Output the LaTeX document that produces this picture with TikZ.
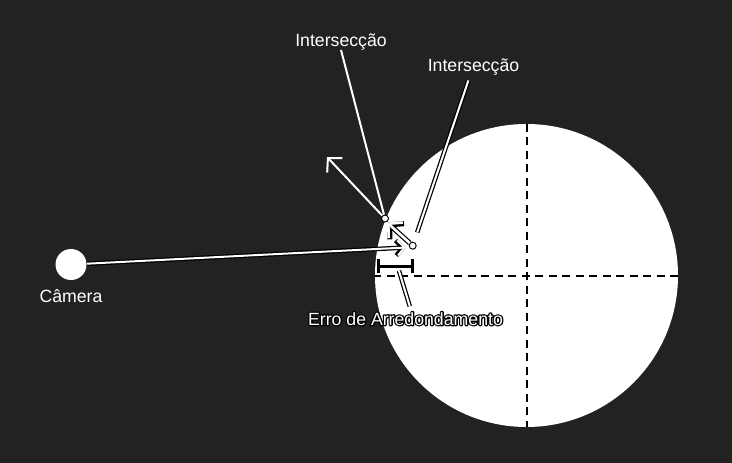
\documentclass[tikz,border=0pt]{standalone}
\usepackage{fontspec}
\setmainfont{Liberation Sans}
\usepackage{tikz}
\usetikzlibrary{calc}
\usetikzlibrary{arrows.meta}
\tikzset{>={Straight Barb[length=7pt,width=15pt]}}
\definecolor{bgdark}{RGB}{34,34,35}
% white text with a black rim
\newcommand{\rimtext}[1]{\rlap{\special{pdf:literal direct 1 Tr 2.6 w 1 j 0 0 0 RG}#1\special{pdf:literal direct 0 Tr}}#1}

\begin{document}
\begin{tikzpicture}[
    x = 1pt, y = -1pt,
    font = \fontsize{17.7}{20}\selectfont,
    lbl/.style = {text=white, inner sep=0pt, anchor=base},
    ray/.style = {draw=white, line width=2pt},
    dot/.style = {circle, fill=white, draw=black, line width=1pt,
        minimum size=7pt, inner sep=0pt},
    barb/.style = {-{Straight Barb[length=10pt,width=21pt]}},
    axis/.style = {draw=black, line width=2pt, dash pattern=on 8pt off 5.5pt}
  ]
  \fill[bgdark] (0,0) rectangle (732,463);
  \useasboundingbox (0,0) rectangle (732,463);

  % sphere and its axes
  \node[circle, fill=white, minimum size=303pt, inner sep=0pt] (sphere) at (526.5,275.5) {};
  \draw[axis] (sphere.north) -- (sphere.south);
  \draw[axis] (sphere.east) -- (sphere.west);

  \node[circle, fill=white, minimum size=31pt, inner sep=0pt] (cam) at (71,264.5) {};
  \node[lbl] (camlbl) at (71,302) {Câmera};

  \node[dot] (int1) at (385,218.5) {};
  \node[dot] (int2) at (412.7,245.7) {};
  \coordinate (raytip) at (406,247.5);
  \coordinate (refl1) at (327,157);
  \coordinate (refl2) at (387,222.5);

  \node[lbl] (lbl1) at (341,46) {Intersecção};
  \node[lbl] (lbl2) at (473.5,71.7) {Intersecção};

  % rays, black rim first and white on top
  \draw[ray, barb] (int1) -- (refl1);
  \draw[ray] (lbl1.south) -- (int1);
  \foreach \c/\w in {black/4.5pt, white/2pt} {
    \draw[draw=\c, line width=\w, ->] (cam) -- (raytip);
    \draw[draw=\c, line width=\w, shorten <=5pt, shorten >=10pt]
      ($(lbl2.south)+(-3.5,0)$) -- (int2);
  }
  \foreach \c/\w in {black/5pt, white/2.6pt}
    \draw[draw=\c, line width=\w, -{Straight Barb[length=10pt,width=21pt]}] (int2) -- (refl2);

  % rounding error
  \coordinate (erra) at (377,266);
  \coordinate (errb) at (414,266);
  \coordinate (errmid) at (397.5,266);
  \draw[black, line width=3pt, {Bar[width=14pt]}-{Bar[width=14pt]}] (erra) -- (errb);
  \node[lbl] (errlbl) at (405.5,325) {\rimtext{Erro de Arredondamento}};
  \foreach \c/\w in {black/4.5pt, white/2pt}
    \draw[draw=\c, line width=\w, shorten <=5pt, shorten >=6pt]
      (errmid) -- ($(errlbl.north)+(6,0)$);
\end{tikzpicture}
\end{document}
